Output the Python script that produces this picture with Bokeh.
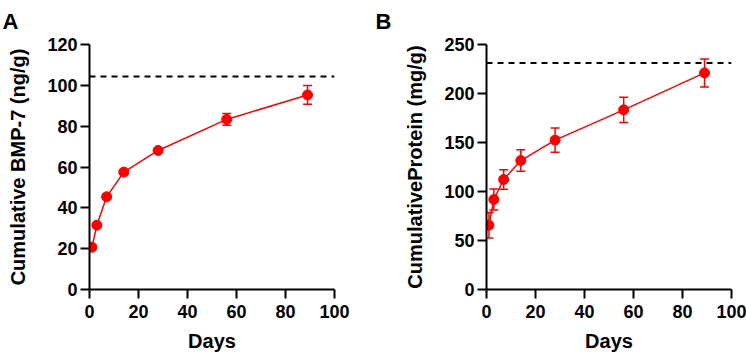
from bokeh.plotting import figure
from bokeh.layouts import row
from bokeh.models import (Range1d, SingleIntervalTicker, Span, Whisker, TeeHead,
                          ColumnDataSource, Title)
from bokeh.embed import file_html
from bokeh.resources import INLINE

# Release time points (days)
days = [1, 3, 7, 14, 28, 56, 89]

# Panel A: cumulative BMP-7 release (ng/g), mean and SD
bmp7 = [20.7, 31.5, 45.4, 57.5, 68.1, 83.3, 95.3]
bmp7_sd = [1.0, 1.0, 1.2, 1.2, 1.0, 2.9, 4.6]
bmp7_total = 104.3

# Panel B: cumulative protein release (mg/g), mean and SD
protein = [65.6, 91.8, 112.2, 131.6, 152.4, 183.3, 221.0]
protein_sd = [13.0, 10.7, 10.0, 11.0, 12.4, 12.8, 14.3]
protein_total = 231.2

FONT = "Liberation Sans"
RED = "#ff0000"


def make_panel(letter, ylabel, values, sd, total, ymax, ystep,
               border_left, border_right, width):
    p = figure(width=width, height=356, output_backend="svg",
               toolbar_location=None,
               x_range=Range1d(0, 100), y_range=Range1d(0, ymax),
               min_border_left=border_left, min_border_right=border_right,
               min_border_top=44, min_border_bottom=67)
    p.outline_line_color = None
    p.xgrid.visible = False
    p.ygrid.visible = False
    p.background_fill_color = "white"
    p.border_fill_color = "white"

    # Panel letter in the top-left corner
    p.title = Title(text=letter, align="left", offset=-(border_left - 2),
                    vertical_align="top", standoff=17,
                    text_font=FONT, text_font_size="22px",
                    text_font_style="bold", text_color="black")

    p.xaxis.ticker = SingleIntervalTicker(interval=20)
    p.yaxis.ticker = SingleIntervalTicker(interval=ystep)
    p.xaxis.axis_label = "Days"
    p.yaxis.axis_label = ylabel
    for ax in (p.xaxis, p.yaxis):
        ax.axis_line_width = 2
        ax.axis_line_color = "black"
        ax.major_tick_line_width = 2
        ax.major_tick_line_color = "black"
        ax.major_tick_out = 9
        ax.major_tick_in = 0
        ax.minor_tick_line_color = None
        ax.major_label_text_font = FONT
        ax.major_label_text_font_size = "18px"
        ax.major_label_text_font_style = "bold"
        ax.major_label_text_color = "black"
        ax.axis_label_text_font = FONT
        ax.axis_label_text_font_size = "20px"
        ax.axis_label_text_font_style = "bold"
        ax.axis_label_text_color = "black"
    p.xaxis.major_label_standoff = 6
    p.yaxis.major_label_standoff = 3
    p.xaxis.axis_label_standoff = 9
    p.yaxis.axis_label_standoff = 15

    # Total loaded amount
    p.add_layout(Span(location=total, dimension="width", line_color="black",
                      line_width=2, line_dash="6 5"))

    src = ColumnDataSource(dict(
        x=days, y=values,
        lo=[v - s for v, s in zip(values, sd)],
        hi=[v + s for v, s in zip(values, sd)],
    ))
    p.add_layout(Whisker(source=src, base="x", lower="lo", upper="hi",
                         dimension="height", line_color=RED, line_width=1.5,
                         upper_head=TeeHead(size=9, line_color=RED, line_width=1.5),
                         lower_head=TeeHead(size=9, line_color=RED, line_width=1.5)))
    p.line("x", "y", source=src, line_color=RED, line_width=1.5)
    p.scatter("x", "y", source=src, size=10, fill_color=RED, line_color=RED)
    return p


pa = make_panel("A", "Cumulative BMP-7 (ng/g)", bmp7, bmp7_sd, bmp7_total,
                120, 20, 89, 39, 373)
pb = make_panel("B", "CumulativeProtein (mg/g)", protein, protein_sd,
                protein_total, 250, 50, 113, 15, 373)

layout = row(pa, pb)
open("out.html", "w").write(file_html(layout, INLINE))
